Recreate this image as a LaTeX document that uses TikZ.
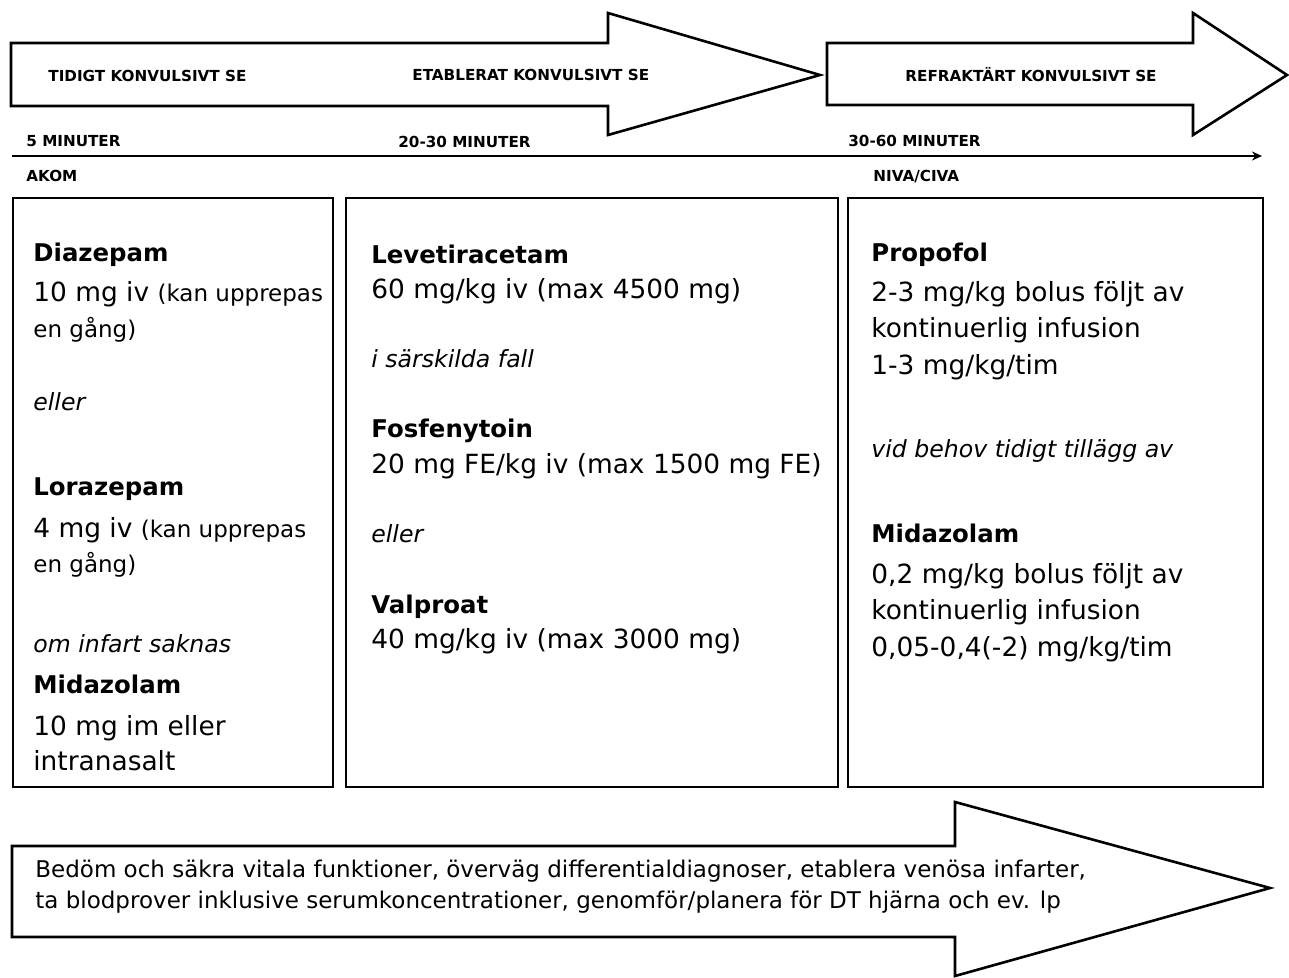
\documentclass[tikz,border=0pt]{standalone}
\usepackage{fontspec}
\setmainfont{DejaVu Sans}
\usetikzlibrary{arrows.meta}

\newcommand\smallpart{\fontsize{11.5}{17}\selectfont}

\tikzset{
  block/.style={line width=1.3pt, line join=miter},
  stage/.style={font=\fontsize{7.6}{9}\selectfont\bfseries, anchor=base west, inner sep=0pt},
  drug/.style={font=\fontsize{12.2}{15}\selectfont\bfseries, anchor=base west, inner sep=0pt},
  dose/.style={font=\fontsize{13.2}{17.5}\selectfont, anchor=base west, inner sep=0pt, align=left},
  note/.style={font=\fontsize{11.8}{15}\selectfont\itshape, anchor=base west, inner sep=0pt},
  info/.style={font=\fontsize{11.5}{15.5}\selectfont, anchor=base west, inner sep=0pt, align=left},
}

\begin{document}
\begin{tikzpicture}[x=0.5pt,y=-0.5pt]
    \useasboundingbox (0,0) rectangle (1289,978);

    % Stage arrows
    \draw[block] (11,43) -- (608,43) -- (608,13) -- (820,75) -- (608,135) -- (608,106) -- (11,106) -- cycle;
    \draw[block] (827,43) -- (1193,43) -- (1193,13) -- (1287,75) -- (1193,135) -- (1193,105) -- (827,105) -- cycle;
    \node[stage] (early) at (48,82) {TIDIGT KONVULSIVT SE};
    \node[stage] (established) at (412,81) {ETABLERAT KONVULSIVT SE};
    \node[stage] (refractory) at (905,82) {REFRAKTÄRT KONVULSIVT SE};

    % Timeline
    \coordinate (tstart) at (12,156);
    \coordinate (tend) at (1262,156);
    \draw[line width=1.2pt, -{Stealth[length=5pt,width=4.5pt]}] (tstart) -- (tend);
    \node[stage] (t5) at (26,147) {5 MINUTER};
    \node[stage] (t20) at (398,148) {20-30 MINUTER};
    \node[stage] (t30) at (848,147) {30-60 MINUTER};
    \node[stage] (akom) at (26,182) {AKOM};
    \node[stage] (niva) at (873,182) {NIVA/CIVA};

    % Boxes
    \draw[block] (13,198) rectangle (333,787);
    \draw[block] (346,198) rectangle (838,787);
    \draw[block] (848,198) rectangle (1263,787);

    % Early phase (multi-line nodes sit on their last baseline)
    \node[drug] (diaz) at (33,262) {Diazepam};
    \node[dose] (diazdose) at (33,337) {10 mg iv \smallpart(kan upprepas\\\smallpart en gång)};
    \node[note] (or1) at (33,410) {eller};
    \node[drug] (loraz) at (33,495) {Lorazepam};
    \node[dose] (lorazdose) at (33,572) {4 mg iv \smallpart(kan upprepas\\\smallpart en gång)};
    \node[note] (noline) at (33,652) {om infart saknas};
    \node[drug] (midaz1) at (33,693) {Midazolam};
    \node[dose] (midaz1dose) at (33,770) {10 mg im eller\\intranasalt};

    % Established phase
    \node[drug] (levet) at (371,264) {Levetiracetam};
    \node[dose] (levetdose) at (371,299) {60 mg/kg iv (max 4500 mg)};
    \node[note] (special) at (371,367) {i särskilda fall};
    \node[drug] (fosf) at (371,437) {Fosfenytoin};
    \node[dose] (fosfdose) at (371,473) {20 mg FE/kg iv (max 1500 mg FE)};
    \node[note] (or2) at (371,542) {eller};
    \node[drug] (valp) at (371,613) {Valproat};
    \node[dose] (valpdose) at (371,648) {40 mg/kg iv (max 3000 mg)};

    % Refractory phase
    \node[drug] (prop) at (871,262) {Propofol};
    \node[dose] (propdose) at (871,374) {2-3 mg/kg bolus följt av\\[0.5pt]kontinuerlig infusion\\[0.5pt]1-3 mg/kg/tim};
    \node[note] (addon) at (871,457) {vid behov tidigt tillägg av};
    \node[drug] (midaz2) at (871,542) {Midazolam};
    \node[dose] (midaz2dose) at (871,656) {0,2 mg/kg bolus följt av\\[0.5pt]kontinuerlig infusion\\[1pt]0,05-0,4(-2) mg/kg/tim};

    % General measures
    \draw[block] (12,846) -- (955,846) -- (955,802) -- (1270,888) -- (955,976) -- (955,937) -- (12,937) -- cycle;
    \node[info] (general) at (35,908) {Bedöm och säkra vitala funktioner, överväg differentialdiagnoser, etablera venösa infarter,\\ta blodprover inklusive serumkoncentrationer, genomför/planera för DT hjärna och ev. lp};
\end{tikzpicture}
\end{document}
